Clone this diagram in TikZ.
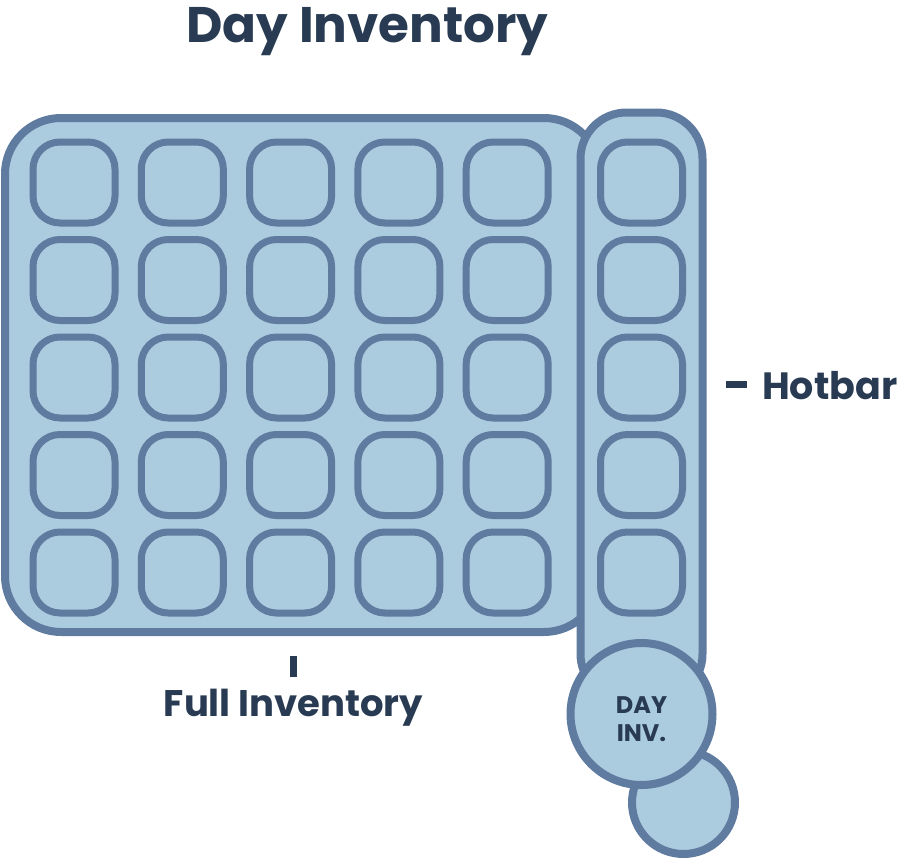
\documentclass[tikz,border=0pt]{standalone}
\usepackage{fontspec}
\setmainfont{Poppins}
\definecolor{fillc}{HTML}{ABCBDF}
\definecolor{strokec}{HTML}{5F7BA0}
\definecolor{textc}{HTML}{283B53}
\begin{document}
\begin{tikzpicture}[x=1pt,y=-1pt,
  panel/.style={draw=strokec,fill=fillc,line width=8pt},
  slot/.style={draw=strokec,fill=fillc,line width=7pt,rectangle,rounded corners=27pt,minimum width=82pt,minimum height=81pt,inner sep=0pt},
  lbl/.style={text=textc,font=\bfseries,inner sep=0pt},
  tick/.style={draw=textc,line width=7pt}]
\useasboundingbox (0,0) rectangle (900,859);
% title
\node[lbl,font=\bfseries\fontsize{50}{56}\selectfont,anchor=base] (title) at (367.5,43) {Day Inventory};
% full inventory panel
\draw[panel,rounded corners=56pt] (5,118) rectangle (600,632);
\foreach \r in {0,...,4}{
  \foreach \c in {0,...,4}{
    \node[slot] (s\r\c) at ({74+108.3*\c},{182.5+97.5*\r}) {};
  }
}
% hotbar
\draw[panel,rounded corners=46pt] (580.5,112.5) rectangle (702.5,700);
\foreach \r in {0,...,4}{
  \node[slot] (h\r) at (641.5,{182.5+97.5*\r}) {};
}
% circles
\node[panel,circle,minimum size=103pt,inner sep=0pt] (small) at (683.5,802.5) {};
\node[panel,circle,minimum size=142pt,inner sep=0pt] (dayinv) at (641.5,714) {};
\node[lbl,align=center,font=\bfseries\fontsize{24}{28}\selectfont,anchor=base] (dayinvtxt) at (641.5,741) {DAY\\INV.};
% labels
\node[lbl,font=\bfseries\fontsize{37}{42}\selectfont,anchor=base] (full) at (293.5,716.5) {Full Inventory};
\node[lbl,font=\bfseries\fontsize{38}{42}\selectfont,anchor=base west] (hot) at (762,399) {Hotbar};
\coordinate (ft1) at (293,656);
\coordinate (ft2) at (293,677);
\coordinate (ht1) at (726,384.5);
\coordinate (ht2) at (747,384.5);
\draw[tick] (ft1) -- (ft2);
\draw[tick] (ht1) -- (ht2);
\end{tikzpicture}
\end{document}
